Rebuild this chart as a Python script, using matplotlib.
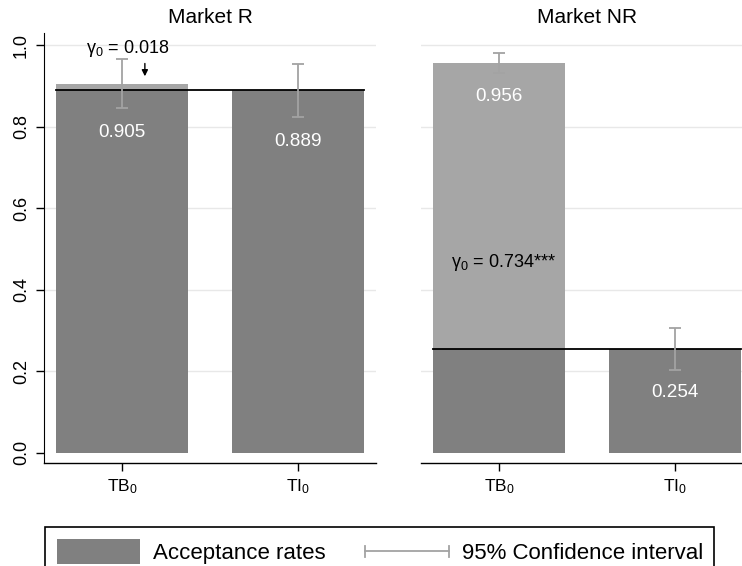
import matplotlib

matplotlib.use("Agg")
import matplotlib.pyplot as plt
from matplotlib import font_manager
from matplotlib.legend_handler import HandlerBase
from matplotlib.lines import Line2D
from matplotlib.patches import Patch

markets = ["Market R", "Market NR"]
categories = ["TB$_0$", "TI$_0$"]
tb0_rate = [0.905, 0.956]
ti0_rate = [0.889, 0.254]
tb0_ci = [(0.845, 0.965), (0.931, 0.980)]
ti0_ci = [(0.823, 0.955), (0.203, 0.307)]
gamma_labels = ["γ$_0$ = 0.018", "γ$_0$ = 0.734***"]
y_ticks = [0.0, 0.2, 0.4, 0.6, 0.8, 1.0]

DARK = "#808080"
LIGHT = "#a6a6a6"
CI_COLOR = "#a3a3a3"
GRID = "#e8e8e8"

available = {f.name for f in font_manager.fontManager.ttflist}
NARROW = "Liberation Sans Narrow" if "Liberation Sans Narrow" in available else "Liberation Sans"
plt.rcParams["font.family"] = ["Liberation Sans", "DejaVu Sans"]
plt.rcParams["mathtext.fontset"] = "custom"
plt.rcParams["mathtext.rm"] = "Liberation Sans"
plt.rcParams["mathtext.default"] = "regular"


class HandlerCI(HandlerBase):
    def create_artists(self, legend, orig_handle, xdescent, ydescent, width, height, fontsize, trans):
        y = height / 2 - ydescent
        x0, x1 = -xdescent, width - xdescent
        cap = height * 0.2
        artists = [
            Line2D([x0, x1], [y, y], color=CI_COLOR, lw=1.3),
            Line2D([x0, x0], [y - cap, y + cap], color=CI_COLOR, lw=1.3),
            Line2D([x1, x1], [y - cap, y + cap], color=CI_COLOR, lw=1.3),
        ]
        for artist in artists:
            artist.set_transform(trans)
        return artists


fig = plt.figure(figsize=(7.42, 5.66), dpi=100)
ax_left = fig.add_axes([44 / 742, 1 - 463 / 566, 332 / 742, 430 / 566])
ax_right = fig.add_axes([421 / 742, 1 - 463 / 566, 332 / 742, 430 / 566])

width = 0.75
x = [0, 1]
value_label_y = [[0.787, 0.765], [0.873, 0.147]]
gamma_pos = [(0.034, 0.993), (0.026, 0.466)]

for idx, ax in enumerate([ax_left, ax_right]):
    ax.set_xlim(-0.443, 1.443)
    ax.set_ylim(-0.025, 1.03)
    ax.set_yticks(y_ticks)
    for tick in y_ticks[1:]:
        ax.axhline(tick, color=GRID, lw=1, zorder=0)

    tb, ti = tb0_rate[idx], ti0_rate[idx]
    ax.bar(x[0], tb, width=width, color=LIGHT, zorder=2)
    ax.bar(x[0], min(tb, ti), width=width, color=DARK, zorder=3)
    ax.bar(x[1], ti, width=width, color=DARK, zorder=3)
    ax.plot([x[0] - width / 2, x[1] + width / 2], [ti, ti], color="black", lw=1.3, zorder=4)

    for xi, (lo, hi), val in zip(x, [tb0_ci[idx], ti0_ci[idx]], [tb, ti]):
        ax.errorbar(xi, val, yerr=[[val - lo], [hi - val]], fmt="none",
                    ecolor=CI_COLOR, elinewidth=1.3, capsize=4, capthick=1.3, zorder=5)

    for xi, val, ly in zip(x, [tb, ti], value_label_y[idx]):
        ax.text(xi, ly, f"{val:.3f}", color="white", ha="center", va="center",
                fontsize=13.6, zorder=6)

    gx, gy = gamma_pos[idx]
    ax.text(gx, gy, gamma_labels[idx], ha="center", va="center", fontsize=13, zorder=6)

    ax.set_title(markets[idx], fontsize=15, pad=7)
    ax.set_xticks(x)
    ax.set_xticklabels(categories, fontsize=12.5, family=NARROW)
    ax.tick_params(axis="x", length=6, width=1, pad=4)
    ax.spines["top"].set_visible(False)
    ax.spines["right"].set_visible(False)
    ax.spines["bottom"].set_linewidth(1)

ax_left.annotate("", xy=(0.13, 0.917), xytext=(0.13, 0.962),
                 arrowprops=dict(arrowstyle="-|>", color="black", lw=1, mutation_scale=9), zorder=6)
ax_left.tick_params(axis="y", length=6, width=1, pad=4, labelsize=13)
ax_left.set_yticklabels([f"{t:.1f}" for t in y_ticks])
plt.setp(ax_left.get_yticklabels(), rotation=90, va="center")

ax_right.spines["left"].set_visible(False)
ax_right.tick_params(axis="y", left=False, labelleft=False)

handles = [Patch(facecolor=DARK, edgecolor="none"), Line2D([], [])]
legend = fig.legend(handles, ["Acceptance rates", "95% Confidence interval"],
                    handler_map={Line2D: HandlerCI()},
                    loc="upper left", bbox_to_anchor=(45 / 742, 1 - 527 / 566),
                    bbox_transform=fig.transFigure, ncol=2, fontsize=16,
                    borderpad=0.52, handlelength=3.75, handleheight=1.4,
                    handletextpad=0.58, columnspacing=1.8, borderaxespad=0,
                    fancybox=False, framealpha=1, edgecolor="black")
legend.get_frame().set_linewidth(1.2)

fig.savefig("out.png", dpi=100)
